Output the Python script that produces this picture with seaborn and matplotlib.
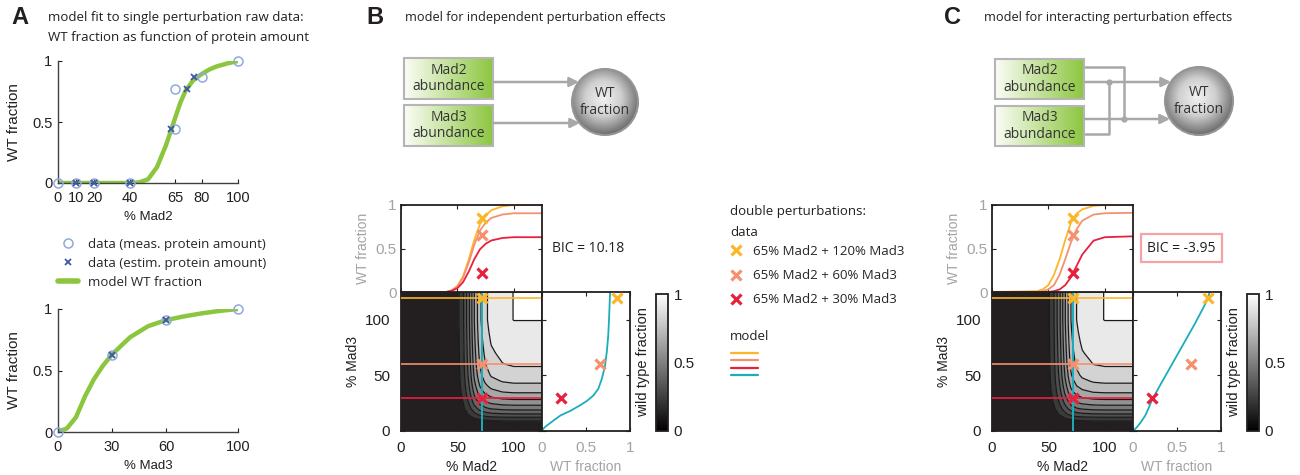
import numpy as np
import matplotlib
matplotlib.use("Agg")
import matplotlib.pyplot as plt
import seaborn as sns
from matplotlib.lines import Line2D
from matplotlib.patches import Rectangle, Circle
from matplotlib.colors import LinearSegmentedColormap, Normalize
from matplotlib.cm import ScalarMappable

# ---------------- data ----------------
# A top: single Mad2 perturbation
mad2_meas_x = [0, 10, 20, 40, 65, 65, 80, 100]
mad2_meas_y = [0, 0, 0, 0, 0.44, 0.77, 0.87, 1.0]
mad2_est_x = [10, 20, 40, 63, 71.5, 75.5]
mad2_est_y = [0, 0, 0, 0.44, 0.77, 0.87]
mad2_fit_x = [0, 40, 45, 50, 55, 60, 63, 65, 68, 71, 75, 79, 84, 88, 94, 100]
mad2_fit_y = [0, 0, 0.005, 0.03, 0.13, 0.31, 0.44, 0.53, 0.66, 0.76, 0.84, 0.885, 0.93, 0.955, 0.98, 1.0]

# A bottom: single Mad3 perturbation
mad3_meas_x = [0, 30, 60, 100]
mad3_meas_y = [0, 0.63, 0.91, 1.0]
mad3_est_x = [30, 60]
mad3_est_y = [0.63, 0.91]
mad3_fit_x = [0, 5, 10, 15, 20, 25, 30, 40, 50, 60, 70, 80, 90, 100]
mad3_fit_y = [0, 0.03, 0.12, 0.29, 0.43, 0.54, 0.63, 0.77, 0.86, 0.91, 0.94, 0.965, 0.985, 1.0]

# double perturbations (data)
dbl_labels = ['65% Mad2 + 120% Mad3', '65% Mad2 + 60% Mad3', '65% Mad2 + 30% Mad3']
dbl_mad2 = 72          # estimated amount of the 65% Mad2 strain
dbl_mad3 = [120, 60, 30]
dbl_wt = [0.855, 0.66, 0.22]

# model curves vs % Mad2 at fixed Mad3 (top marginal panels)
grid_mad2 = [0, 40, 45, 50, 55, 60, 65, 70, 75, 80, 90, 100, 125]
B_mad3_120 = [0, 0, 0.02, 0.07, 0.18, 0.37, 0.60, 0.78, 0.88, 0.94, 0.985, 1.0, 1.0]
B_mad3_60 = [0, 0, 0.018, 0.063, 0.163, 0.335, 0.543, 0.706, 0.796, 0.851, 0.891, 0.905, 0.905]
B_mad3_30 = [0, 0, 0.013, 0.044, 0.113, 0.233, 0.378, 0.491, 0.554, 0.592, 0.621, 0.63, 0.63]
C_mad3_120 = [0, 0.01, 0.03, 0.08, 0.20, 0.38, 0.60, 0.80, 0.90, 0.95, 0.99, 1.0, 1.0]
C_mad3_60 = [0, 0, 0.01, 0.03, 0.08, 0.20, 0.38, 0.57, 0.72, 0.82, 0.89, 0.905, 0.91]
C_mad3_30 = [0, 0, 0, 0, 0.01, 0.03, 0.08, 0.17, 0.30, 0.43, 0.59, 0.63, 0.64]

# model curve vs % Mad3 at 72% Mad2 (right marginal panels)
B_cyan_mad3 = [0, 2, 4, 7, 10, 14, 18, 23, 27, 32, 38, 47, 58, 71, 85, 101, 125]
B_cyan_wt = [0, 0.015, 0.04, 0.09, 0.14, 0.21, 0.32, 0.43, 0.51, 0.585, 0.64, 0.68, 0.715, 0.736, 0.752, 0.762, 0.774]
C_cyan_mad3 = [0, 3, 8, 14, 21, 27, 40, 54, 68, 82, 96, 111, 120, 125]
C_cyan_wt = [0, 0.04, 0.09, 0.14, 0.18, 0.21, 0.30, 0.40, 0.50, 0.60, 0.70, 0.80, 0.855, 0.87]

# Mad3 response used for the 2D model landscape
grid_mad3 = [0, 5, 10, 15, 20, 25, 30, 35, 40, 45, 50, 60, 70, 80, 90, 100, 125]
mad3_resp = [0, 0.03, 0.12, 0.29, 0.43, 0.54, 0.63, 0.71, 0.77, 0.82, 0.86, 0.91, 0.94, 0.965, 0.985, 1.0, 1.0]

bic_B = 'BIC = 10.18'
bic_C = 'BIC = -3.95'

# ---------------- style ----------------
sns.set_theme(style='ticks')
plt.rcParams['font.family'] = ['Liberation Sans', 'DejaVu Sans']
plt.rcParams['xtick.direction'] = 'in'
plt.rcParams['ytick.direction'] = 'in'

DARK = '#231f20'
GRAY = '#a3a3a3'
GREEN = '#8cc63f'
CIRC = '#8fa9dd'
CROSS = '#3d56a6'
YEL, SAL, RED, CYAN = '#fcb62a', '#f6906f', '#e8203c', '#1badbb'
dbl_colors = [YEL, SAL, RED]
SANS = ['Open Sans', 'DejaVu Sans']

W, H = 1300, 475
fig = plt.figure(figsize=(13, 4.75), dpi=100)


def rect(x0, y0, x1, y1):
    return [x0 / W, 1 - y1 / H, (x1 - x0) / W, (y1 - y0) / H]


# ---------------- panel A ----------------
def panel_a(ax, mx, my, ex, ey, fx, fy, xticks, xlabel):
    sns.lineplot(x=fx, y=fy, ax=ax, color=GREEN, lw=3.2, zorder=2)
    ax.plot(mx, my, 'o', mfc='none', mec=CIRC, ms=6.5, mew=1.1, clip_on=False, zorder=3)
    ax.plot(ex, ey, 'x', color=CROSS, ms=3.8, mew=1.3, clip_on=False, zorder=4)
    ax.set_xlim(0, 100)
    ax.set_ylim(0, 1)
    ax.set_xticks(xticks)
    ax.set_xticklabels([str(t) for t in xticks])
    ax.set_yticks([0, 0.5, 1])
    ax.set_yticklabels(['0', '0.5', '1'])
    ax.tick_params(labelsize=10.5, colors=DARK, length=3, width=0.8, pad=4)
    ax.tick_params(axis='x', pad=6)
    for s in ['top', 'right']:
        ax.spines[s].set_visible(False)
    for s in ['left', 'bottom']:
        ax.spines[s].set_color('#404040')
        ax.spines[s].set_linewidth(1.0)
    ax.set_xlabel(xlabel, fontsize=9.5, color=DARK, labelpad=4)
    ax.set_ylabel('WT fraction', fontsize=11, color=DARK, labelpad=8)


axA1 = fig.add_axes(rect(58, 61, 238, 183))
panel_a(axA1, mad2_meas_x, mad2_meas_y, mad2_est_x, mad2_est_y,
        mad2_fit_x, mad2_fit_y, [0, 10, 20, 40, 65, 80, 100], '% Mad2')
axA2 = fig.add_axes(rect(58, 309, 238, 432))
panel_a(axA2, mad3_meas_x, mad3_meas_y, mad3_est_x, mad3_est_y,
        mad3_fit_x, mad3_fit_y, [0, 30, 60, 100], '% Mad3')

legA = [Line2D([], [], ls='none', marker='o', mfc='none', mec=CIRC, ms=6.5, mew=1.1),
        Line2D([], [], ls='none', marker='x', color=CROSS, ms=3.8, mew=1.3),
        Line2D([], [], color=GREEN, lw=4)]
fig.legend(legA, ['data (meas. protein amount)', 'data (estim. protein amount)', 'model WT fraction'],
           loc='upper left', bbox_to_anchor=(58 / W, 1 - 238 / H), frameon=False,
           borderpad=0, borderaxespad=0, handlelength=1.5, handletextpad=0.75,
           labelspacing=0.45, prop={'family': SANS, 'size': 9.5})

# ---------------- panels B and C ----------------
band_levels = [0, 0.1, 0.2, 0.3, 0.4, 0.5, 0.6, 0.7, 0.8, 0.9, 0.999, 1.001]
band_colors = [(0.14 + 0.86 * v,) * 3 for v in band_levels[:-2]] + [(1, 1, 1)]
band_colors[0] = DARK
line_levels = band_levels[1:-1]
cmap_cb = LinearSegmentedColormap.from_list('wt', ['#000000', '#ffffff'])


def style_box(ax, label_color):
    for s in ax.spines.values():
        s.set_color(DARK)
        s.set_linewidth(1.3)
    ax.tick_params(which='both', top=True, right=True, length=3, width=0.8,
                   color=DARK, labelcolor=label_color, labelsize=11)


def model_panel(x0, top_curves, cyan_mad3, cyan_wt, mad2_resp, bic, boxed):
    xc1 = x0 + 141
    ax_c = fig.add_axes(rect(x0, 292, xc1, 431))
    ax_t = fig.add_axes(rect(x0, 205, xc1, 292))
    ax_r = fig.add_axes(rect(xc1, 292, xc1 + 88, 431))
    cax = fig.add_axes(rect(xc1 + 114, 294, xc1 + 126, 431))

    # 2D landscape
    field = np.outer(mad3_resp, mad2_resp)
    ax_c.contourf(grid_mad2, grid_mad3, field, levels=band_levels, colors=band_colors)
    ax_c.contour(grid_mad2, grid_mad3, field, levels=line_levels, colors='k', linewidths=0.9)
    for m3, col in zip(dbl_mad3, dbl_colors):
        ax_c.axhline(m3, color=col, lw=1.4, alpha=0.85, zorder=3)
    ax_c.axvline(dbl_mad2, color=CYAN, lw=1.4, zorder=3)
    for m3, col in zip(dbl_mad3, dbl_colors):
        ax_c.plot(dbl_mad2, m3, 'x', color=col, ms=7, mew=2.3, zorder=4)
    ax_c.set_xlim(0, 125)
    ax_c.set_ylim(0, 125)
    ax_c.set_xticks([0, 50, 100])
    ax_c.set_yticks([0, 50, 100])
    style_box(ax_c, DARK)
    ax_c.tick_params(axis='x', pad=7)
    ax_c.tick_params(axis='y', pad=8)
    ax_c.set_xlabel('% Mad2', fontsize=10, color=DARK, labelpad=4)
    ax_c.set_ylabel('% Mad3', fontsize=10, color=DARK, labelpad=3)

    # top marginal: WT fraction vs Mad2
    for ys, col in zip(top_curves, dbl_colors):
        sns.lineplot(x=grid_mad2, y=ys, ax=ax_t, color=col, lw=1.3)
    for w, col in zip(dbl_wt, dbl_colors):
        ax_t.plot(dbl_mad2, w, 'x', color=col, ms=7, mew=2.3, zorder=4)
    ax_t.set_xlim(0, 125)
    ax_t.set_ylim(0, 1)
    ax_t.set_xticks([0, 50, 100])
    ax_t.set_xticklabels([])
    ax_t.set_yticks([0, 0.5, 1])
    ax_t.set_yticklabels(['0', '0.5', '1'])
    style_box(ax_t, GRAY)
    ax_t.tick_params(axis='y', pad=3)
    ax_t.set_ylabel('WT fraction', fontsize=10, color=GRAY, labelpad=4)

    # right marginal: WT fraction vs Mad3
    sns.lineplot(x=cyan_wt, y=cyan_mad3, ax=ax_r, color=CYAN, lw=1.3,
                 sort=False, estimator=None)
    for w, m3, col in zip(dbl_wt, dbl_mad3, dbl_colors):
        ax_r.plot(w, m3, 'x', color=col, ms=7, mew=2.3, zorder=4)
    ax_r.set_xlim(0, 1)
    ax_r.set_ylim(0, 125)
    ax_r.set_xticks([0, 0.5, 1])
    ax_r.set_xticklabels(['0', '0.5', '1'])
    ax_r.set_yticks([0, 50, 100])
    ax_r.set_yticklabels([])
    style_box(ax_r, GRAY)
    ax_r.tick_params(axis='x', pad=7)
    ax_r.set_xlabel('WT fraction', fontsize=10, color=GRAY, labelpad=4)

    # colorbar
    cb = fig.colorbar(ScalarMappable(norm=Normalize(0, 1), cmap=cmap_cb), cax=cax)
    cb.set_ticks([0, 0.5, 1])
    cb.set_ticklabels(['0', '0.5', '1'])
    cb.outline.set_edgecolor(DARK)
    cb.outline.set_linewidth(1.3)
    cax.tick_params(length=0, labelsize=11, colors=DARK, pad=4)
    cax.yaxis.set_label_position('left')
    cax.set_ylabel('wild type fraction', fontsize=10.5, color=DARK, labelpad=4)

    # BIC
    if boxed:
        fig.text((xc1 + 14) / W, 1 - 248 / H, bic, fontsize=10, family=SANS, color=DARK,
                 va='center', ha='left',
                 bbox=dict(boxstyle='square,pad=0.45', fc='white', ec='#f3a2a7', lw=1.6))
    else:
        fig.text((xc1 + 10) / W, 1 - 249 / H, bic, fontsize=10, family=SANS, color=DARK,
                 va='center', ha='left')


model_panel(401, [B_mad3_120, B_mad3_60, B_mad3_30], B_cyan_mad3, B_cyan_wt,
            B_mad3_120, bic_B, False)
model_panel(992, [C_mad3_120, C_mad3_60, C_mad3_30], C_cyan_mad3, C_cyan_wt,
            C_mad3_120, bic_C, True)

# middle legend
fig.text(730 / W, 1 - 212 / H, 'double perturbations:', fontsize=9.5, family=SANS,
         color=DARK, va='center')
fig.text(730 / W, 1 - 233 / H, 'data', fontsize=9.5, family=SANS, color=DARK, va='center')
fig.text(730 / W, 1 - 337 / H, 'model', fontsize=9.5, family=SANS, color=DARK, va='center')
dat_handles = [Line2D([], [], ls='none', marker='x', color=c, ms=7, mew=2.3) for c in dbl_colors]
fig.legend(dat_handles, dbl_labels, loc='upper left', bbox_to_anchor=(731 / W, 1 - 245 / H),
           frameon=False, borderpad=0, borderaxespad=0, handlelength=0.8,
           handletextpad=0.9, labelspacing=0.85, prop={'family': SANS, 'size': 9.5})
mod_handles = [Line2D([], [], color=c, lw=1.6) for c in dbl_colors + [CYAN]]
fig.legend(mod_handles, ['', '', '', ''], loc='upper left', bbox_to_anchor=(731 / W, 1 - 351 / H),
           frameon=False, borderpad=0, borderaxespad=0, handlelength=4.9,
           handletextpad=0, labelspacing=0.4, prop={'size': 4})

# ---------------- panel letters and titles ----------------
for x, letter in [(11, 'A'), (366, 'B'), (944, 'C')]:
    fig.text(x / W, 1 - 18 / H, letter, fontsize=17, weight='bold', color=DARK, va='center')
fig.text(48 / W, 1 - 17 / H, 'model fit to single perturbation raw data:', fontsize=9.5,
         family=SANS, color=DARK, va='center')
fig.text(48 / W, 1 - 37 / H, 'WT fraction as function of protein amount', fontsize=9.5,
         family=SANS, color=DARK, va='center')
fig.text(405 / W, 1 - 17 / H, 'model for independent perturbation effects', fontsize=9.2,
         family=SANS, color=DARK, va='center')
fig.text(984 / W, 1 - 17 / H, 'model for interacting perturbation effects', fontsize=9.2,
         family=SANS, color=DARK, va='center')

# ---------------- network diagrams ----------------
ov = fig.add_axes([0, 0, 1, 1])
ov.axis('off')
green_grad = LinearSegmentedColormap.from_list('g', ['#fbfdf7', GREEN])
ball = LinearSegmentedColormap.from_list('b', ['#f2f2f2', '#cfcfcf', '#6f6f6f'])
LINE = '#a8a8a8'


def gene_box(x0, y0, x1, y1, label):
    ov.imshow(np.linspace(0, 1, 256)[None, :], cmap=green_grad,
              extent=[x0, x1, y1, y0], aspect='auto', zorder=1)
    ov.add_patch(Rectangle((x0, y0), x1 - x0, y1 - y0, fill=False, ec='#b5b5b5', lw=1.5, zorder=2))
    ov.text((x0 + x1) / 2, (y0 + y1) / 2, label, ha='center', va='center', fontsize=10,
            family=SANS, color='#333333', linespacing=1.15, zorder=3)


def wt_ball(cx, cy, r):
    yy, xx = np.mgrid[-1:1:200j, -1:1:200j]
    d = np.sqrt((xx + 0.05) ** 2 + (yy + 0.12) ** 2)
    im = ov.imshow(np.clip(d / 1.1, 0, 1), cmap=ball, extent=[cx - r, cx + r, cy + r, cy - r],
                   aspect='auto', zorder=1)
    c = Circle((cx, cy), r, fill=False, ec='#959595', lw=1.5, zorder=2)
    ov.add_patch(c)
    im.set_clip_path(c)
    ov.text(cx, cy, 'WT\nfraction', ha='center', va='center', fontsize=10, family=SANS,
            color='#333333', linespacing=1.15, zorder=3)


def arrow(x0, x1, y):
    ov.annotate('', xy=(x1, y), xytext=(x0, y),
                arrowprops=dict(arrowstyle='-|>', color=LINE, lw=1.8, mutation_scale=14,
                                shrinkA=0, shrinkB=0))


gene_box(404, 58, 493, 99, 'Mad2\nabundance')
gene_box(404, 105, 493, 146, 'Mad3\nabundance')
wt_ball(605, 102, 33)
arrow(494, 579, 82)
arrow(494, 580, 123)

gene_box(995, 59, 1084, 99, 'Mad2\nabundance')
gene_box(995, 106, 1084, 146, 'Mad3\nabundance')
wt_ball(1199, 101, 34)
arrow(1085, 1171, 82)
arrow(1085, 1170, 119)
ov.plot([1085, 1124, 1124], [67, 67, 119], color=LINE, lw=1.8)
ov.plot([1085, 1109, 1109], [134, 134, 82], color=LINE, lw=1.8)
ov.plot([1109, 1124], [82, 119], 'o', color=LINE, ms=3.5)

ov.set_xlim(0, W)
ov.set_ylim(H, 0)

fig.savefig('out.png', dpi=100)
